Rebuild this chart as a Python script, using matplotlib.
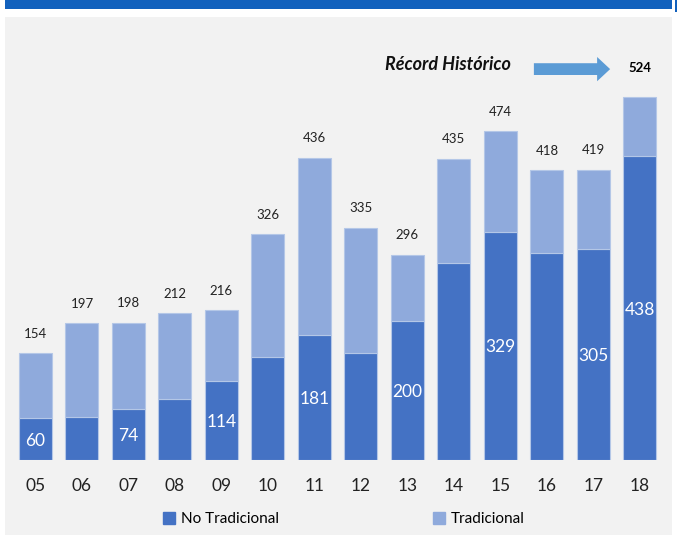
import matplotlib.pyplot as plt
from matplotlib.patches import Rectangle, FancyArrow

plt.rcParams['font.family'] = ['Lato', 'DejaVu Sans']

years = ['05', '06', '07', '08', '09', '10', '11', '12', '13', '14', '15', '16', '17', '18']
no_trad = [60, 62, 74, 88, 114, 148, 181, 155, 200, 284, 329, 299, 305, 438]
totals = [154, 197, 198, 212, 216, 326, 436, 335, 296, 435, 474, 418, 419, 524]
trad = [t - n for t, n in zip(totals, no_trad)]
inner_labels = [True, False, True, False, True, False, True, False, True, False, True, False, True, True]

W, H = 678, 535
fig = plt.figure(figsize=(W / 100, H / 100), dpi=100)
fig.patch.set_facecolor('white')

# background panel and banner
fig.patches.append(Rectangle((5 / W, 0), 667 / W, (H - 17) / H, transform=fig.transFigure,
                             facecolor='#f2f2f2', edgecolor='none', zorder=-2))
fig.patches.append(Rectangle((5 / W, (H - 9) / H), 667 / W, 9 / H, transform=fig.transFigure,
                             facecolor='#1261bd', edgecolor='none', zorder=-2))
fig.patches.append(Rectangle((675 / W, (H - 12) / H), 2 / W, 12 / H, transform=fig.transFigure,
                             facecolor='#1261bd', edgecolor='none', zorder=-2))

ax = fig.add_axes([15 / W, 75 / H, 650 / W, 420 / H])
ax.set_facecolor('none')
x = list(range(len(years)))
dark = '#4472c4'
light = '#8faadc'
ax.bar(x, no_trad, width=0.71, color=dark, edgecolor='#b4c7e7', linewidth=0.8, label='No Tradicional')
ax.bar(x, trad, width=0.71, bottom=no_trad, color=light, edgecolor='#b4c7e7', linewidth=0.8, label='Tradicional')

for i in x:
    if i == len(years) - 1:
        ax.text(i, 566, str(totals[i]), ha='center', va='center', fontsize=9.5, fontweight='bold', color='black')
    else:
        ax.text(i, totals[i] + 28, str(totals[i]), ha='center', va='center', fontsize=9.5, color='#222222')
    if inner_labels[i]:
        ax.text(i, no_trad[i] / 2 - 2, str(no_trad[i]), ha='center', va='center', fontsize=12.5, color='white')

ax.text(10.22, 570, 'Récord Histórico', ha='right', va='center', fontsize=13,
        fontweight='bold', style='italic', color='#111111')
ax.add_patch(FancyArrow(10.72, 564, 1.64, 0, width=17, head_width=35, head_length=0.28,
                        length_includes_head=True, color='#5b9bd5', linewidth=0))

ax.set_xlim(-0.44, 13.54)
ax.set_ylim(0, 606)
ax.set_xticks(x)
ax.set_xticklabels(years, fontsize=12.5, color='#222222')
ax.tick_params(axis='x', length=0, pad=13)
ax.set_yticks([])
for s in ax.spines.values():
    s.set_visible(False)

h1 = Rectangle((0, 0), 1, 1, color=dark)
h2 = Rectangle((0, 0), 1, 1, color=light)
fig.legend([h1], ['No Tradicional'], loc='center left', bbox_to_anchor=(149 / W, 1 - 519 / H),
           frameon=False, fontsize=11, handlelength=0.8, handleheight=0.8, handletextpad=0.4)
fig.legend([h2], ['Tradicional'], loc='center left', bbox_to_anchor=(419 / W, 1 - 519 / H),
           frameon=False, fontsize=11, handlelength=0.8, handleheight=0.8, handletextpad=0.4)

fig.savefig('out.png', dpi=100)
